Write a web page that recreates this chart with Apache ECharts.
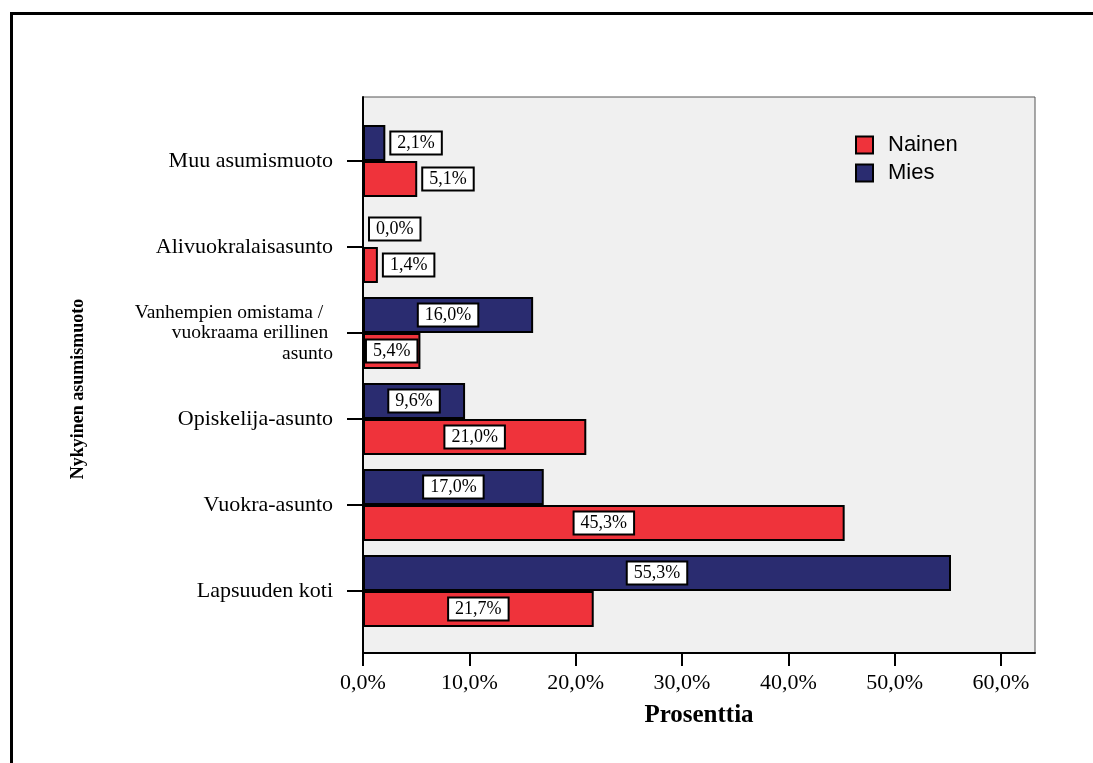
<!DOCTYPE html>
<html>
<head>
<meta charset="utf-8">
<script src="https://cdn.jsdelivr.net/npm/echarts@6/dist/echarts.min.js"></script>
<style>html,body{margin:0;padding:0;background:#fff;}#c{width:1093px;height:763px;}</style>
</head>
<body>
<div id="c"></div>
<script>
// Categories listed bottom-to-top (ECharts category y axis starts at the bottom)
const categories = [
  'Lapsuuden koti',
  'Vuokra-asunto',
  'Opiskelija-asunto',
  'Vanhempien omistama /  \nvuokraama erillinen \nasunto',
  'Alivuokralaisasunto',
  'Muu asumismuoto'
];
const miesValues    = [55.3, 17.0, 9.6, 16.0, 0.0, 2.1];
const nainenValues  = [21.7, 45.3, 21.0, 5.4, 1.4, 5.1];
const xTickValues   = [0, 10, 20, 30, 40, 50, 60];
const xMax = 63.2;

const RED = '#ef333b';
const BLUE = '#2a2c70';
const SERIF = 'Liberation Serif';

function fmt(v) { return v.toFixed(1).replace('.', ',') + '%'; }

function makeData(values) {
  return values.map(v => ({
    value: v,
    label: v >= 5.3 ? { position: 'inside' } : { position: 'right', distance: 6 }
  }));
}

const labelStyle = {
  show: true,
  formatter: p => fmt(p.value),
  fontFamily: SERIF,
  fontSize: 18,
  lineHeight: 18,
  color: '#000',
  backgroundColor: '#fff',
  borderColor: '#000',
  borderWidth: 2,
  padding: [2, 6, 1, 6]
};

const chart = echarts.init(document.getElementById('c'), null, { renderer: 'canvas' });
chart.setOption({
  animation: false,
  backgroundColor: '#fff',
  grid: [
    { left: 363, right: 58, top: 97, bottom: 110, show: true, backgroundColor: '#f0f0f0', borderColor: '#555', borderWidth: 1 },
    { left: 363, right: 58, top: 118, bottom: 129 }
  ],
  xAxis: [
    {
      gridIndex: 0, type: 'value', min: 0, max: xMax, interval: 10,
      axisLine: { show: true, lineStyle: { color: '#000', width: 2 } },
      axisTick: { show: true, length: 13, lineStyle: { color: '#000', width: 2 }, customValues: xTickValues },
      axisLabel: { fontFamily: SERIF, fontSize: 22, color: '#000', margin: 19, formatter: v => fmt(v), customValues: xTickValues },
      splitLine: { show: false },
      name: 'Prosenttia', nameLocation: 'middle', nameGap: 50,
      nameTextStyle: { fontFamily: SERIF, fontSize: 25, fontWeight: 'bold', color: '#000' }
    },
    { gridIndex: 1, type: 'value', min: 0, max: xMax, show: false, splitLine: { show: false } }
  ],
  yAxis: [
    {
      gridIndex: 0, type: 'value', min: 0, max: 1,
      axisLine: { show: true, lineStyle: { color: '#000', width: 2 } },
      axisTick: { show: false }, axisLabel: { show: false }, splitLine: { show: false }
    },
    {
      gridIndex: 1, type: 'category', data: categories,
      axisLine: { show: false },
      axisTick: { show: true, alignWithLabel: true, length: 16, lineStyle: { color: '#000', width: 2 } },
      axisLabel: {
        fontFamily: SERIF, fontSize: 22, color: '#000', margin: 30, align: 'right',
        formatter: v => v.indexOf('\n') >= 0 ? '{s|' + v.split('\n').join('}\n{s|') + '}' : v,
        rich: { s: { fontFamily: SERIF, fontSize: 19.5, lineHeight: 20.5, color: '#000', align: 'right' } }
      },
      splitLine: { show: false }
    }
  ],
  legend: {
    data: ['Nainen', 'Mies'],
    orient: 'vertical', left: 850, top: 129,
    icon: 'rect', itemWidth: 17, itemHeight: 17, itemGap: 6,
    textStyle: { fontFamily: 'Liberation Sans', fontSize: 22, color: '#000', padding: [0, 0, 0, 10] }
  },
  graphic: [
    { type: 'rect', shape: { x: 11.5, y: 13.5, width: 1200, height: 900 }, style: { fill: 'none', stroke: '#000', lineWidth: 3 }, silent: true },
    { type: 'text', x: 78, y: 389, rotation: Math.PI / 2, style: { text: 'Nykyinen asumismuoto', fontFamily: SERIF, fontSize: 18, fontWeight: 'bold', fill: '#000', align: 'center', verticalAlign: 'middle' } }
  ],
  series: [
    {
      name: 'Mies', type: 'bar', xAxisIndex: 1, yAxisIndex: 1,
      barWidth: 36, barGap: '0%',
      itemStyle: { color: BLUE, borderColor: '#000', borderWidth: 2 },
      label: labelStyle,
      data: makeData(miesValues)
    },
    {
      name: 'Nainen', type: 'bar', xAxisIndex: 1, yAxisIndex: 1,
      barWidth: 36, barGap: '0%',
      itemStyle: { color: RED, borderColor: '#000', borderWidth: 2 },
      label: labelStyle,
      data: makeData(nainenValues)
    }
  ]
});
</script>
</body>
</html>
